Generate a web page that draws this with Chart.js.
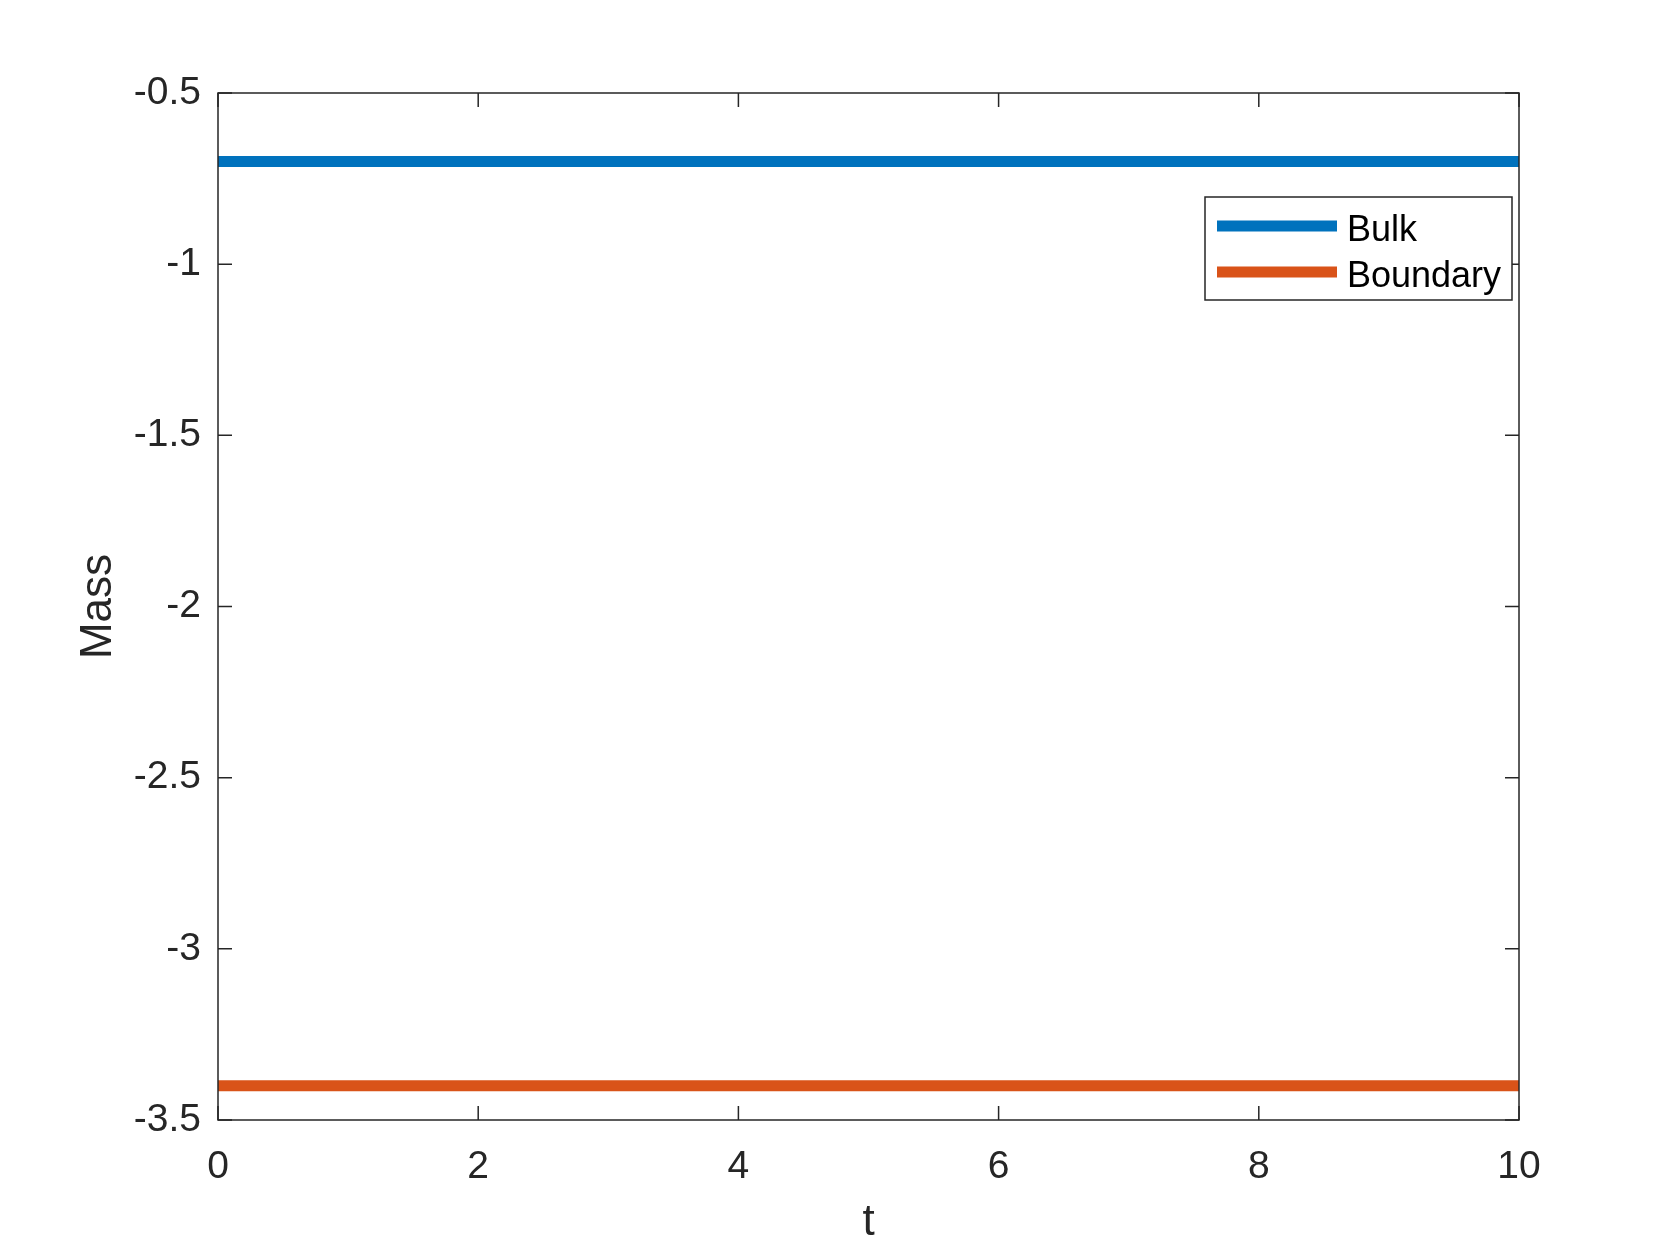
<!DOCTYPE html>
<html>
<head>
<meta charset="utf-8">
<script src="https://cdn.jsdelivr.net/npm/chart.js@4.4.0/dist/chart.umd.min.js"></script>
<style>
  html, body { margin: 0; padding: 0; background: #fff; }
</style>
</head>
<body>
<canvas id="massChart" width="1680" height="1260"></canvas>
<script>
// data
const tValues = [0, 10];
const bulkMass = [-0.7, -0.7];
const boundaryMass = [-3.4, -3.4];
const seriesNames = ["Bulk", "Boundary"];
const seriesColors = ["#0072BD", "#D95319"];
const xRange = [0, 10];
const yRange = [-3.5, -0.5];
const xTickStep = 2;
const yTickStep = 0.5;

const axisColor = "#262626";
const fontFamily = "'Liberation Sans', Arial, Helvetica, sans-serif";

function toPoints(xs, ys) {
  return xs.map((x, i) => ({ x: x, y: ys[i] }));
}

// matlab style numbers: -1 not -1.0
function shortNum(v) {
  return String(Math.round(v * 100) / 100);
}

// box around the plot + inward ticks on all four sides
const frameTicks = {
  id: "frameTicks",
  afterDatasetsDraw(chart) {
    const ctx = chart.ctx;
    const a = chart.chartArea;
    const xs = chart.scales.x;
    const ys = chart.scales.y;
    const len = 14;
    ctx.save();
    ctx.strokeStyle = axisColor;
    ctx.lineWidth = 1.5;
    ctx.beginPath();
    xs.ticks.forEach((t) => {
      const px = xs.getPixelForValue(t.value);
      ctx.moveTo(px, a.bottom);
      ctx.lineTo(px, a.bottom - len);
      ctx.moveTo(px, a.top);
      ctx.lineTo(px, a.top + len);
    });
    ys.ticks.forEach((t) => {
      const py = ys.getPixelForValue(t.value);
      ctx.moveTo(a.left, py);
      ctx.lineTo(a.left + len, py);
      ctx.moveTo(a.right, py);
      ctx.lineTo(a.right - len, py);
    });
    ctx.stroke();
    ctx.strokeRect(a.left, a.top, a.right - a.left, a.bottom - a.top);
    ctx.restore();
  },
};

// legend inside the upper right corner
const innerLegend = {
  id: "innerLegend",
  afterDraw(chart) {
    const ctx = chart.ctx;
    const a = chart.chartArea;
    const boxW = 307, boxH = 103;
    const bx = a.right - 7 - boxW;
    const by = a.top + 104;
    ctx.save();
    ctx.fillStyle = "#fff";
    ctx.fillRect(bx, by, boxW, boxH);
    ctx.strokeStyle = axisColor;
    ctx.lineWidth = 1.5;
    ctx.strokeRect(bx, by, boxW, boxH);
    ctx.font = "36px " + fontFamily;
    ctx.textBaseline = "alphabetic";
    chart.data.datasets.forEach((ds, i) => {
      const ly = by + 29 + i * 46;
      ctx.strokeStyle = ds.borderColor;
      ctx.lineWidth = ds.borderWidth;
      ctx.beginPath();
      ctx.moveTo(bx + 12, ly);
      ctx.lineTo(bx + 132, ly);
      ctx.stroke();
      ctx.fillStyle = "#000";
      ctx.fillText(ds.label, bx + 142, ly + 15);
    });
    ctx.restore();
  },
};

const ctx = document.getElementById("massChart").getContext("2d");
const chart = new Chart(ctx, {
  type: "line",
  data: {
    datasets: [
      {
        label: seriesNames[0],
        data: toPoints(tValues, bulkMass),
        borderColor: seriesColors[0],
        borderWidth: 11,
        pointRadius: 0,
        fill: false,
      },
      {
        label: seriesNames[1],
        data: toPoints(tValues, boundaryMass),
        borderColor: seriesColors[1],
        borderWidth: 11,
        pointRadius: 0,
        fill: false,
      },
    ],
  },
  options: {
    responsive: false,
    animation: false,
    layout: { padding: { top: 93, right: 161, left: 0, bottom: 0 } },
    plugins: {
      legend: { display: false },
      tooltip: { enabled: false },
    },
    scales: {
      x: {
        type: "linear",
        min: xRange[0],
        max: xRange[1],
        grid: { display: false },
        border: { display: false },
        ticks: {
          stepSize: xTickStep,
          color: axisColor,
          padding: 16,
          maxRotation: 0,
          callback: shortNum,
          font: { family: fontFamily, size: 39 },
        },
        title: {
          display: true,
          text: "t",
          color: axisColor,
          padding: { top: 0, bottom: 11 },
          font: { family: fontFamily, size: 44 },
        },
        afterFit(scale) {
          scale.height = 140;
        },
      },
      y: {
        type: "linear",
        min: yRange[0],
        max: yRange[1],
        grid: { display: false },
        border: { display: false },
        ticks: {
          stepSize: yTickStep,
          color: axisColor,
          padding: 9,
          callback: shortNum,
          font: { family: fontFamily, size: 39 },
        },
        title: {
          display: true,
          text: "Mass",
          color: axisColor,
          padding: { top: 72, bottom: 0 },
          font: { family: fontFamily, size: 44 },
        },
        afterFit(scale) {
          scale.width = 218;
        },
      },
    },
  },
  plugins: [frameTicks, innerLegend],
});
</script>
</body>
</html>
